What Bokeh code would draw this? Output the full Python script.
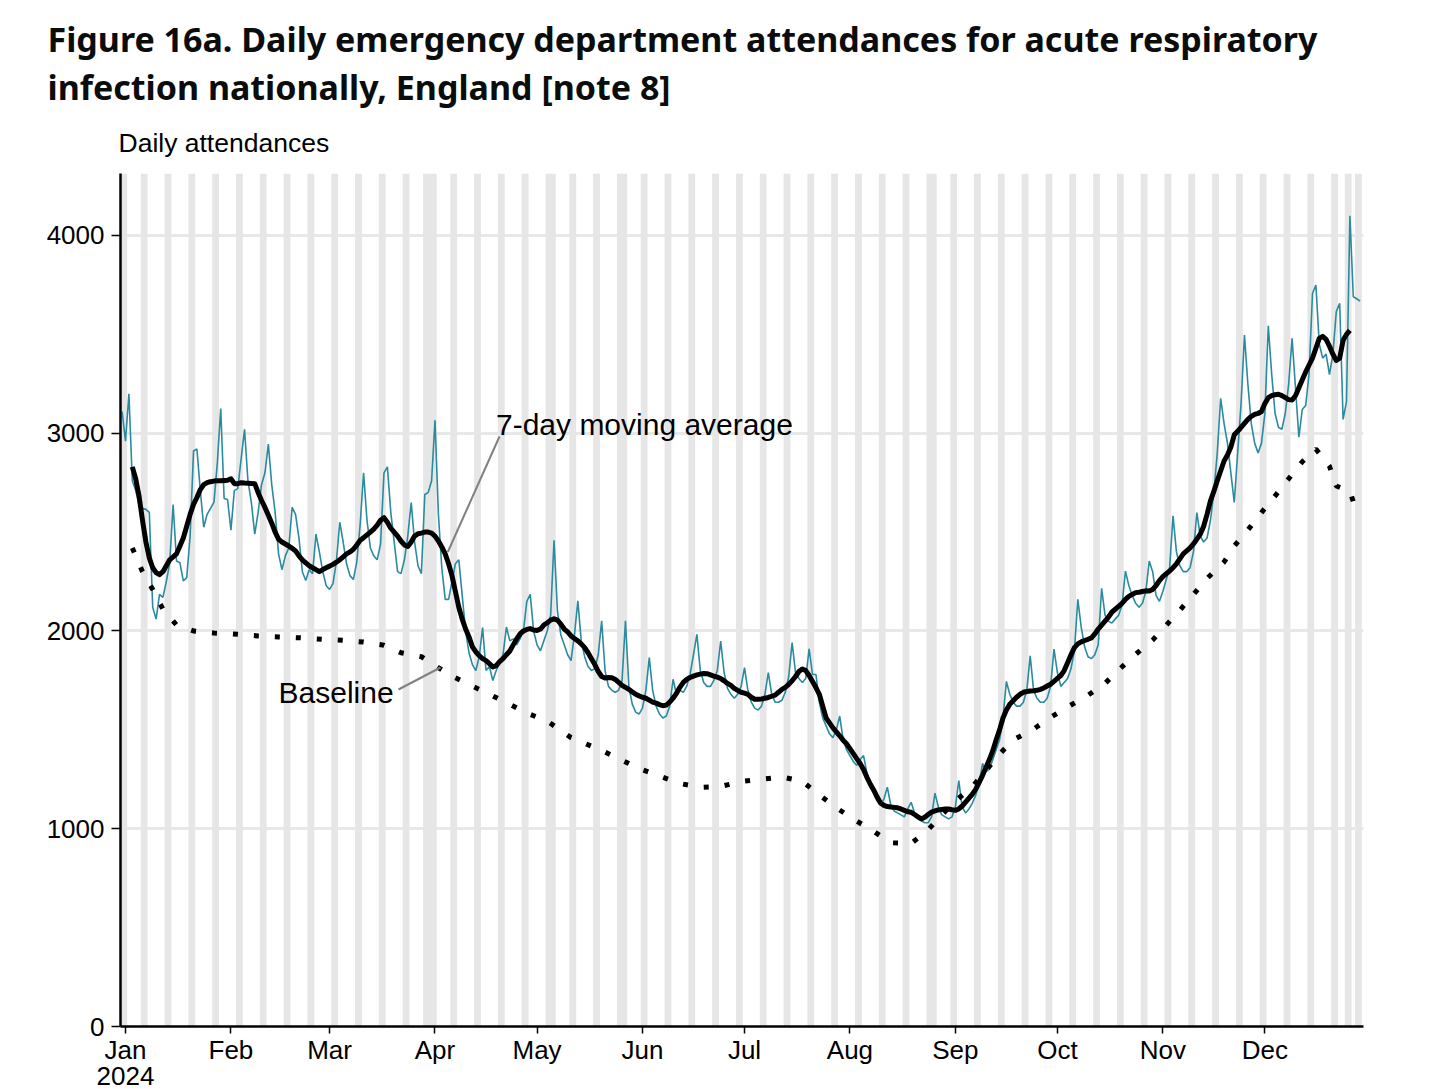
import datetime as dt
from bokeh.plotting import figure
from bokeh.layouts import column
from bokeh.models import Range1d, FixedTicker, Label, LinearAxis
from bokeh.core.properties import value
from bokeh.embed import file_html
from bokeh.resources import INLINE

# ---------------- data ----------------
ORIGIN = dt.date(2024, 1, 1)
daily_first_date = dt.date(2023, 12, 31)
daily_attendances = [
    3110,
    2960, 3200, 2760, 2710, 2640, 2620, 2615,
    2600, 2120, 2060, 2185, 2170, 2250, 2345,
    2640, 2354, 2345, 2253, 2270, 2480, 2910,
    2920, 2710, 2525, 2590, 2620, 2650, 2850,
    3125, 2670, 2665, 2510, 2710, 2720, 2870,
    3020, 2760, 2650, 2490, 2600, 2740, 2800,
    2945, 2740, 2600, 2390, 2310, 2380, 2420,
    2625, 2590, 2470, 2300, 2255, 2310, 2290,
    2490, 2400, 2300, 2230, 2210, 2240, 2350,
    2550, 2450, 2340, 2280, 2260, 2350, 2540,
    2800, 2560, 2420, 2380, 2360, 2440, 2800,
    2830, 2600, 2450, 2300, 2290, 2360, 2480,
    2650, 2450, 2330, 2290, 2690, 2700, 2760,
    3066, 2590, 2320, 2160, 2160, 2250, 2340,
    2360, 2180, 2000, 1890, 1830, 1800, 1870,
    2017, 1800, 1820, 1750, 1800, 1840, 1880,
    2020, 1950, 1960, 1930, 1960, 2000, 2150,
    2185, 2000, 1930, 1900, 1950, 2000, 2080,
    2459, 2100, 1980, 1930, 1880, 1850, 1980,
    2152, 1950, 1870, 1820, 1800, 1810, 1880,
    2051, 1800, 1720, 1700, 1690, 1700, 1750,
    2051, 1720, 1630, 1590, 1580, 1610, 1700,
    1865, 1700, 1620, 1580, 1560, 1570, 1620,
    1756, 1680, 1700, 1690, 1720, 1780, 1880,
    1983, 1800, 1740, 1720, 1720, 1750, 1800,
    1949, 1790, 1710, 1680, 1660, 1680, 1720,
    1815, 1700, 1640, 1610, 1600, 1620, 1680,
    1789, 1680, 1640, 1640, 1650, 1690, 1770,
    1941, 1790, 1760, 1740, 1760, 1910, 1780,
    1780, 1640, 1560, 1520, 1480, 1460, 1500,
    1570, 1450, 1400, 1370, 1340, 1320, 1350,
    1370, 1280, 1230, 1180, 1140, 1120, 1150,
    1210, 1120, 1090, 1080, 1070, 1060, 1100,
    1134, 1080, 1050, 1040, 1030, 1030, 1060,
    1180, 1110, 1070, 1060, 1050, 1060, 1110,
    1244, 1110, 1080, 1100, 1130, 1170, 1230,
    1330, 1290, 1300, 1350, 1400, 1450, 1560,
    1745, 1680, 1640, 1620, 1620, 1640, 1700,
    1874, 1700, 1660, 1640, 1640, 1660, 1720,
    1908, 1790, 1720, 1740, 1760, 1810, 1900,
    2160, 2020, 1920, 1870, 1860, 1880, 1930,
    2216, 2080, 2050, 2040, 2060, 2080, 2130,
    2303, 2230, 2180, 2140, 2120, 2140, 2200,
    2354, 2300, 2180, 2150, 2200, 2260, 2320,
    2582, 2400, 2330, 2300, 2300, 2320, 2400,
    2599, 2480, 2450, 2470, 2560, 2700, 2900,
    3177, 3050, 2950, 2800, 2650, 2900, 3150,
    3496, 3250, 3050, 2950, 2900, 2950, 3100,
    3543, 3300, 3100, 3030, 3020, 3100, 3250,
    3480, 3230, 2980, 3120, 3140, 3300, 3707,
    3749, 3450, 3380, 3400, 3296, 3400, 3615,
    3657, 3070, 3160, 4100, 3690, 3680, 3668,
]

ma_first_date = dt.date(2024, 1, 3)
moving_average_7day = [
    2830, 2770, 2680, 2560, 2450, 2370, 2320, 2295, 2285, 2300,
    2330, 2360, 2375, 2390, 2430, 2470, 2530, 2590, 2640, 2675,
    2715, 2740, 2750, 2755, 2758, 2760, 2760, 2761, 2762, 2770,
    2745, 2745, 2750, 2748, 2747, 2746, 2745, 2700, 2660, 2625,
    2585, 2545, 2500, 2465, 2450, 2440, 2430, 2418, 2405, 2380,
    2360, 2345, 2330, 2320, 2310, 2300, 2310, 2320, 2328, 2337,
    2348, 2360, 2375, 2390, 2400, 2413, 2435, 2459, 2472, 2486,
    2500, 2515, 2535, 2560, 2573, 2550, 2520, 2500, 2480, 2455,
    2435, 2427, 2450, 2480, 2492, 2495, 2500, 2500, 2495, 2480,
    2455, 2425, 2390, 2340, 2280, 2200, 2120, 2060, 2010, 1970,
    1920, 1895, 1875, 1860, 1850, 1835, 1818, 1825, 1845, 1860,
    1880, 1899, 1930, 1960, 1985, 2000, 2008, 2012, 2005, 2003,
    2010, 2030, 2042, 2055, 2062, 2055, 2035, 2010, 1995, 1975,
    1962, 1950, 1935, 1916, 1890, 1860, 1830, 1795, 1770, 1762,
    1765, 1764, 1755, 1740, 1725, 1715, 1705, 1692, 1680, 1672,
    1665, 1660, 1650, 1640, 1635, 1628, 1622, 1625, 1640, 1660,
    1685, 1715, 1740, 1755, 1765, 1772, 1778, 1782, 1785, 1784,
    1778, 1772, 1767, 1760, 1748, 1735, 1725, 1710, 1700, 1690,
    1686, 1680, 1665, 1655, 1655, 1656, 1660, 1664, 1670, 1676,
    1690, 1705, 1715, 1730, 1748, 1770, 1795, 1808, 1800, 1775,
    1745, 1714, 1680, 1620, 1560, 1535, 1510, 1490, 1470, 1448,
    1430, 1405, 1380, 1355, 1330, 1300, 1260, 1225, 1195, 1160,
    1130, 1118, 1112, 1110, 1108, 1106, 1100, 1093, 1086, 1083,
    1072, 1060, 1050, 1058, 1072, 1084, 1090, 1095, 1098, 1100,
    1100, 1096, 1093, 1100, 1115, 1135, 1155, 1175, 1200, 1235,
    1270, 1310, 1350, 1395, 1450, 1500, 1560, 1600, 1630, 1647,
    1665, 1680, 1690, 1694, 1697, 1698, 1700, 1705, 1712, 1722,
    1731, 1745, 1760, 1775, 1800, 1840, 1880, 1916, 1935, 1945,
    1952, 1958, 1965, 1985, 2010, 2030, 2050, 2070, 2095, 2110,
    2125, 2140, 2160, 2175, 2185, 2194, 2196, 2200, 2203, 2202,
    2210, 2230, 2255, 2275, 2290, 2303, 2320, 2340, 2365, 2390,
    2405, 2420, 2440, 2465, 2489, 2530, 2590, 2658, 2706, 2760,
    2809, 2860, 2890, 2930, 2992, 3010, 3030, 3050, 3070, 3085,
    3095, 3100, 3110, 3150, 3180, 3190, 3195, 3197, 3190, 3180,
    3170, 3168, 3190, 3230, 3270, 3310, 3345, 3380, 3430, 3480,
    3490, 3475, 3440, 3400, 3368, 3380, 3470, 3500, 3520,
]

# baseline: day of year (0 = 1 Jan 2024) and value
baseline_day = [2, 5, 8, 11, 15, 20, 26, 33, 39, 45, 52, 58, 64, 70, 76, 81, 87, 91,
                96, 101, 107, 113, 119, 124, 131, 140, 151, 163, 169, 175, 181, 187,
                193, 199, 204, 209, 214, 220, 225, 231, 236, 240, 244, 249, 253, 257,
                261, 267, 272, 277, 283, 288, 292, 297, 302, 306, 310, 314, 318, 323,
                326, 330, 334, 338, 342, 346, 350, 354, 356, 360, 362]
baseline_value = [2420, 2300, 2210, 2110, 2030, 2000, 1990, 1983, 1975, 1970, 1965,
                  1958, 1953, 1944, 1928, 1890, 1870, 1825, 1772, 1730, 1680, 1629,
                  1578, 1545, 1461, 1396, 1305, 1229, 1209, 1214, 1239, 1250, 1262,
                  1240, 1171, 1106, 1049, 987, 929, 925, 995, 1070, 1140, 1213, 1295,
                  1378, 1449, 1504, 1563, 1616, 1675, 1735, 1803, 1882, 1954, 2029,
                  2105, 2185, 2266, 2349, 2430, 2511, 2599, 2683, 2770, 2856, 2920,
                  2833, 2733, 2706, 2603]

bank_holidays = ["2024-01-01", "2024-03-29", "2024-04-01", "2024-05-06",
                 "2024-05-27", "2024-08-26", "2024-12-25", "2024-12-26"]
month_names = ["Jan", "Feb", "Mar", "Apr", "May", "Jun",
               "Jul", "Aug", "Sep", "Oct", "Nov", "Dec"]
year_label = "2024"
y_ticks = [0, 1000, 2000, 3000, 4000]

title_lines = ["Figure 16a. Daily emergency department attendances for acute respiratory",
               "infection nationally, England [note 8]"]
y_title = "Daily attendances"

# ---------------- derived x positions ----------------
def doy(d):
    return (d - ORIGIN).days

daily_x = [doy(daily_first_date) + i for i in range(len(daily_attendances))]
ma_x = [doy(ma_first_date) + i for i in range(len(moving_average_7day))]
month_ticks = [doy(dt.date(2024, m, 1)) for m in range(1, 13)]

W, H = 1453, 1089
X0, X1 = -1.47, 364.0
Y0, Y1 = 0, 4313.5
LEFT, RIGHT = 120, 90
PPD = (W - LEFT - RIGHT) / (X1 - X0)

# weekend / bank-holiday shading runs
hol = {doy(dt.date.fromisoformat(s)) for s in bank_holidays}
shade_days = []
day = dt.date(2023, 12, 30)
while day <= dt.date(2024, 12, 31):
    if day.weekday() >= 5 or doy(day) in hol:
        shade_days.append(doy(day))
    day += dt.timedelta(days=1)
runs = []
for d in shade_days:
    if runs and d == runs[-1][1] + 1:
        runs[-1][1] = d
    else:
        runs.append([d, d])
band_left = [a - 0.5 for a, b in runs]
band_right = [b + 0.5 for a, b in runs]

# ---------------- header (title + y title) ----------------
TOP_H = 165
top = figure(width=W, height=TOP_H, output_backend="svg", toolbar_location=None,
             x_range=Range1d(0, W), y_range=Range1d(TOP_H, 0),
             min_border=0, frame_align=False)
top.outline_line_color = None
top.xaxis.visible = False
top.yaxis.visible = False
top.xgrid.visible = False
top.ygrid.visible = False
top.text(x=[47, 47], y=[38, 86.5], text=title_lines, text_font=value("Noto Sans"),
         text_font_style="bold", text_font_size="34px", text_color="#0b0c0c",
         text_baseline="alphabetic", text_align="left")
top.text(x=[118], y=[142.5], text=[y_title], text_font=value("Liberation Sans"),
         text_font_size="26.5px", text_color="black", text_baseline="alphabetic",
         text_align="left")

# ---------------- main plot ----------------
MAIN_H = H - TOP_H
p = figure(width=W, height=MAIN_H, output_backend="svg", toolbar_location=None,
           x_range=Range1d(X0, X1), y_range=Range1d(Y0, Y1),
           min_border_left=LEFT, min_border_right=RIGHT, min_border_top=8,
           min_border_bottom=MAIN_H - 8 - 853, frame_align=False)
p.outline_line_color = None
p.background_fill_color = "white"
p.border_fill_color = "white"

p.quad(left=band_left, right=band_right, bottom=Y0, top=Y1,
       fill_color="#e6e6e6", line_color=None)

p.xgrid.visible = False
p.ygrid.grid_line_color = "#e8e8e8"
p.ygrid.grid_line_width = 3

TEAL = "#2a8ba0"
p.line(daily_x, daily_attendances, line_color=TEAL, line_width=1.6)
p.line(baseline_day, baseline_value, line_color="black", line_width=5,
       line_dash="5 16")
p.line(ma_x, moving_average_7day, line_color="black", line_width=5,
       line_join="round")

for ax in (p.xaxis[0], p.yaxis[0]):
    ax.axis_line_color = "black"
    ax.axis_line_width = 2.5
    ax.major_tick_line_color = "black"
    ax.major_tick_line_width = 1.5
    ax.major_tick_in = 0
    ax.minor_tick_line_color = None
    ax.major_label_text_font = "Liberation Sans"
    ax.major_label_text_font_size = "26px"
    ax.major_label_text_color = "black"

p.xaxis.ticker = FixedTicker(ticks=month_ticks)
p.xaxis.major_label_overrides = {t: n for t, n in zip(month_ticks, month_names)}
p.xaxis.major_tick_out = 7
p.xaxis.major_label_standoff = 1
p.yaxis.ticker = FixedTicker(ticks=y_ticks)
p.yaxis.major_tick_out = 9
p.yaxis.major_label_standoff = 7

# second row of the date axis: the year under "Jan"
year_axis = LinearAxis(ticker=FixedTicker(ticks=[month_ticks[0]]),
                       major_label_overrides={month_ticks[0]: year_label},
                       axis_line_color=None, major_tick_line_color=None,
                       minor_tick_line_color=None, major_tick_out=0,
                       major_label_standoff=-1,
                       major_label_text_font="Liberation Sans",
                       major_label_text_font_size="26px",
                       major_label_text_color="black")
p.add_layout(year_axis, "below")


def dx(px):
    return X0 + (px - LEFT) / PPD


def dy(py):
    return (1026.0 - py) / 0.19775


# annotations
p.segment(x0=[dx(499)], y0=[dy(436)], x1=[dx(447.3)], y1=[dy(551.5)],
          line_color="#808080", line_width=2)
p.segment(x0=[dx(398)], y0=[dy(689)], x1=[dx(440)], y1=[dy(667)],
          line_color="#808080", line_width=2)
p.add_layout(Label(x=dx(495.5), y=dy(424), text="7-day moving average",
                   text_font="Liberation Sans", text_font_size="30px",
                   text_color="black", text_baseline="alphabetic"))
p.add_layout(Label(x=dx(278), y=dy(692), text="Baseline",
                   text_font="Liberation Sans", text_font_size="30px",
                   text_color="black", text_baseline="alphabetic"))

layout = column(top, p, spacing=0)
open("out.html", "w").write(file_html(layout, INLINE))
